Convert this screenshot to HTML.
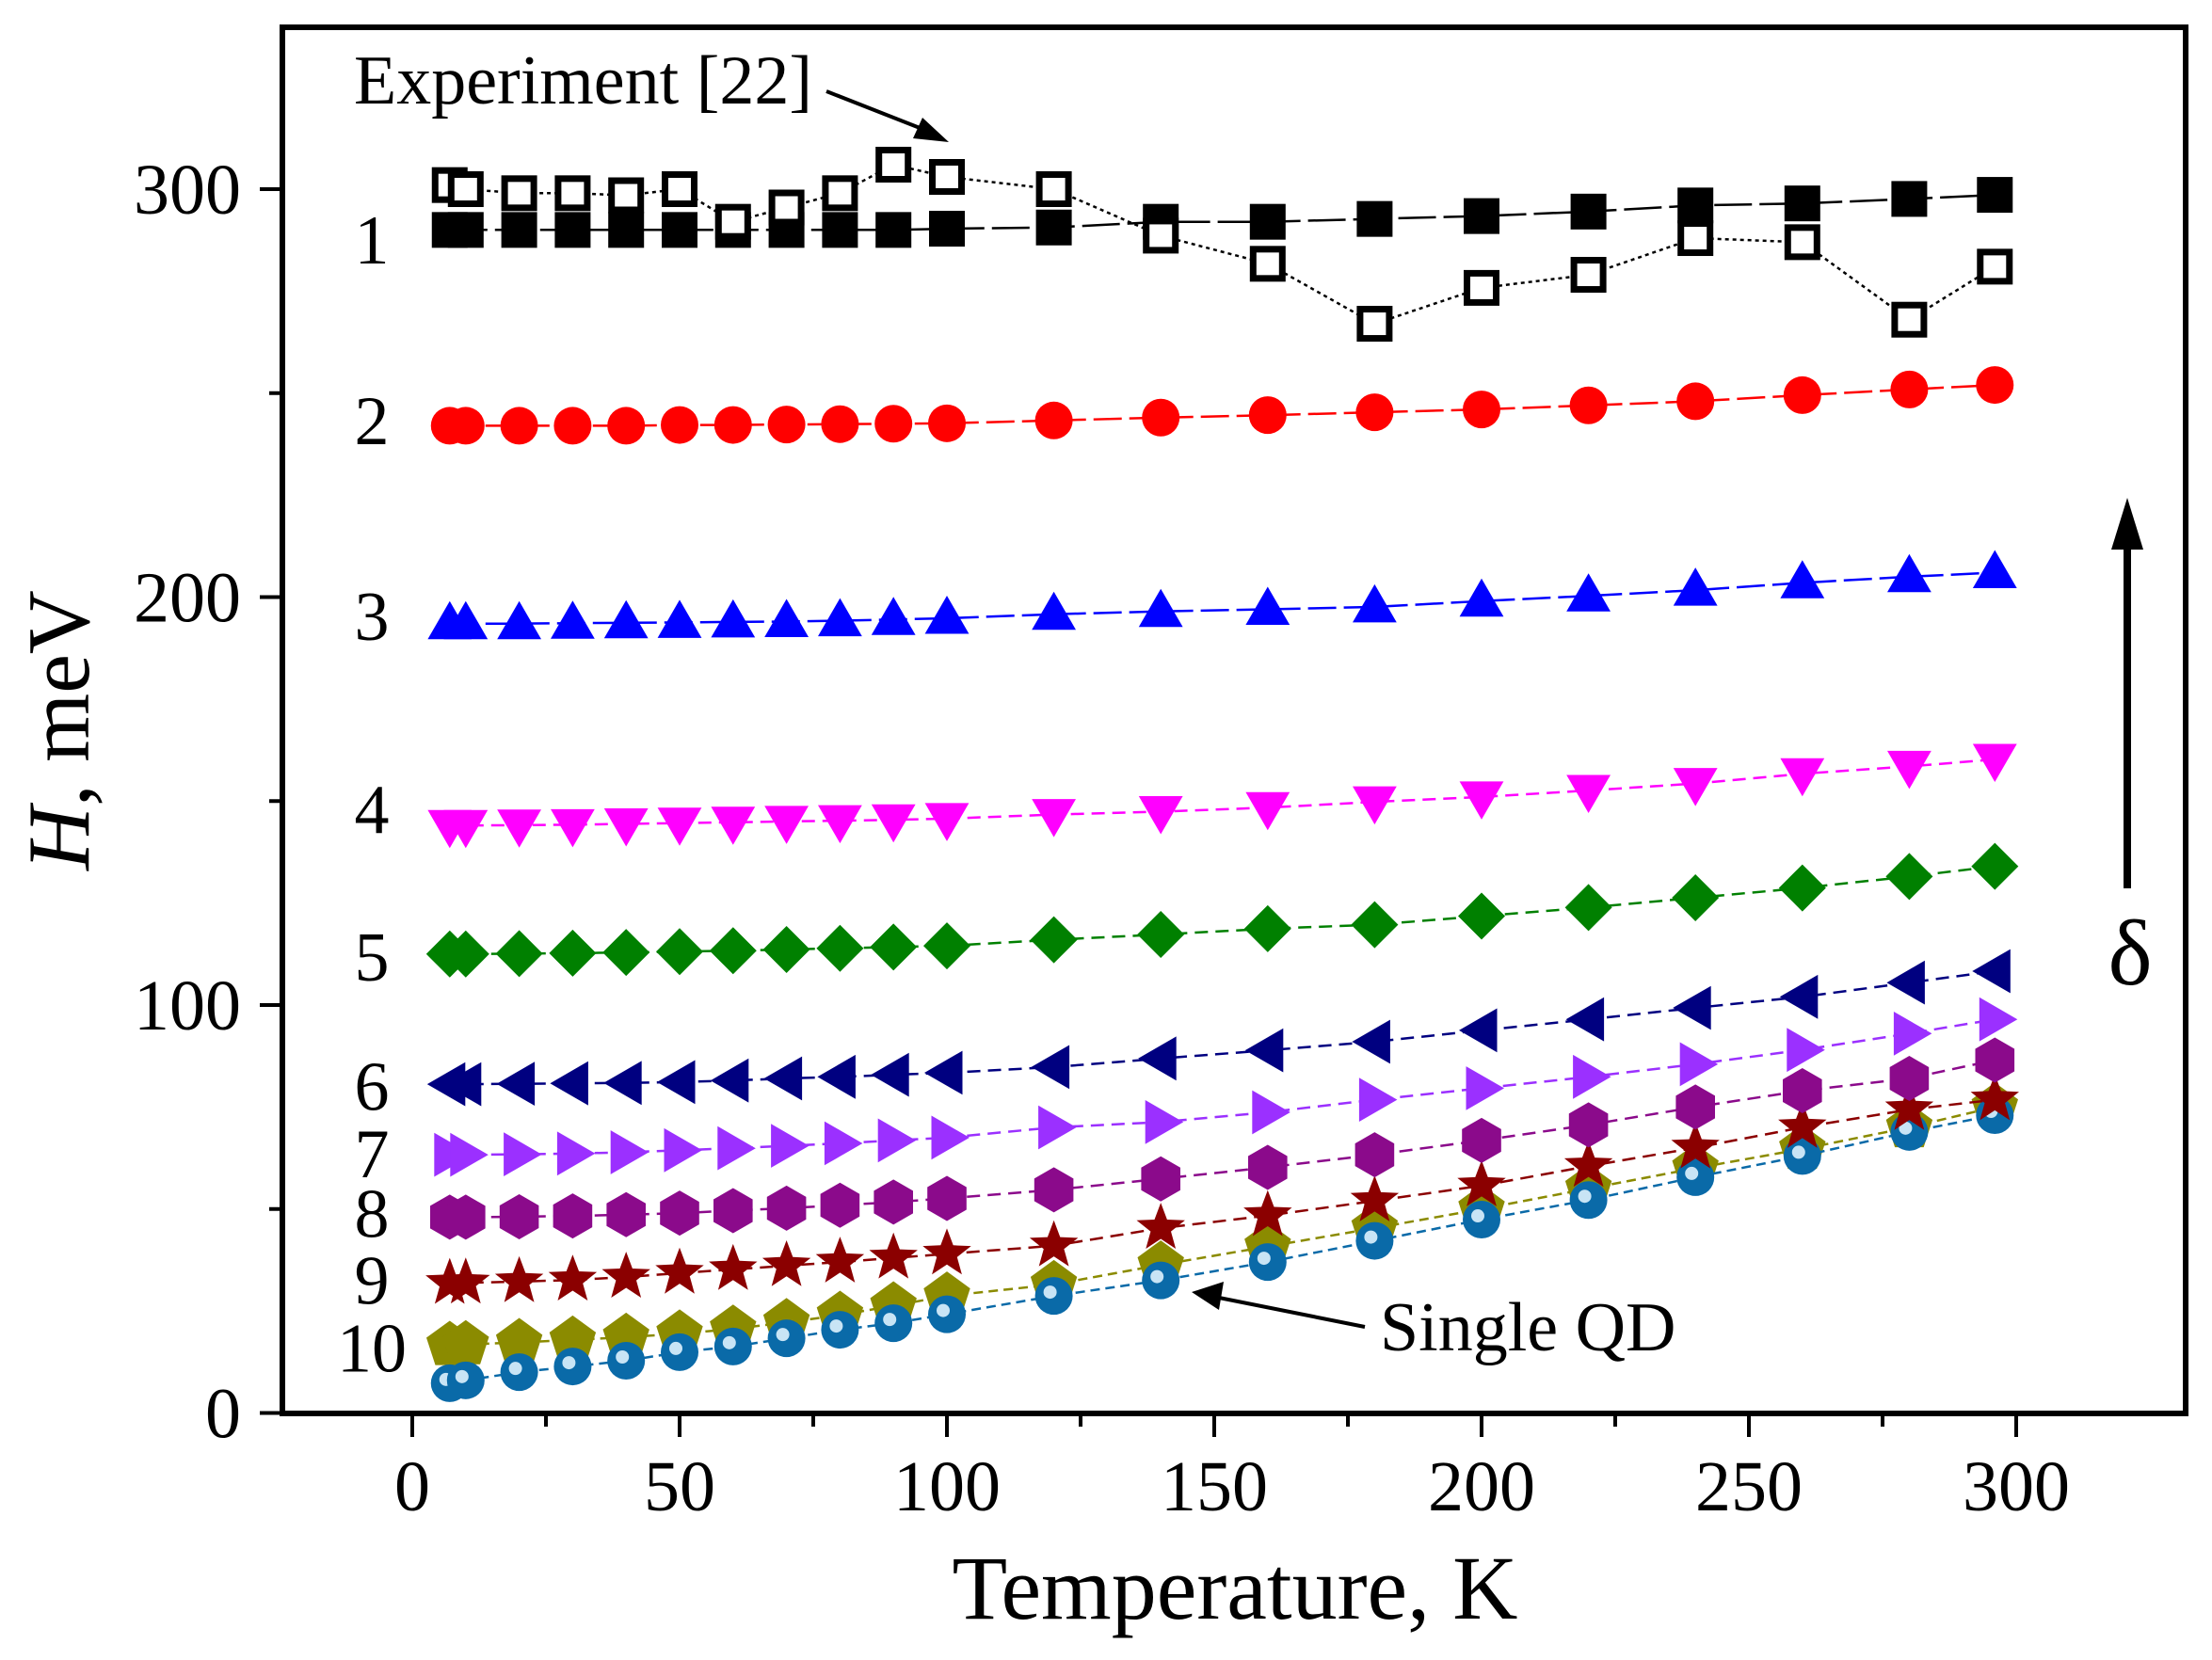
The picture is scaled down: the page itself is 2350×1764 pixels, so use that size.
<!DOCTYPE html>
<html><head><meta charset="utf-8"><style>
html,body{margin:0;padding:0;background:#fff}
svg{display:block}
text{font-family:"Liberation Serif",serif;fill:#000}
</style></head><body>
<svg id="chart" width="2350" height="1764" viewBox="0 0 2350 1764" xmlns="http://www.w3.org/2000/svg">
<g id="series-layer"></g>
<rect x="300" y="29" width="2022" height="1473" fill="none" stroke="#000" stroke-width="6"/>
<g id="axes-layer"></g>
<text x="376" y="110" font-size="74">Experiment [22]</text>
<line x1="878" y1="97" x2="990" y2="141" stroke="#000" stroke-width="4"/>
<polygon points="1008,151 970,147 980,125" fill="#000"/>
<text x="1466" y="1435" font-size="74">Single QD</text>
<line x1="1450" y1="1410" x2="1290" y2="1378" stroke="#000" stroke-width="4"/>
<polygon points="1266,1373 1300,1362 1295,1392" fill="#000"/>
<line x1="2260" y1="944" x2="2260" y2="580" stroke="#000" stroke-width="8"/>
<polygon points="2260,529 2243,584 2277,584" fill="#000"/>
<text x="2263" y="1046" font-size="100" text-anchor="middle">δ</text>
<text x="1312" y="1720" font-size="96" text-anchor="middle">Temperature, K</text>
<text transform="translate(94,776) rotate(-90)" font-size="94" text-anchor="middle"><tspan font-style="italic">H</tspan>, meV</text>
</svg>
<script>
const temps = [7,10,20,30,40,50,60,70,80,90,100,120,140,160,180,200,220,240,260,280,296];
const expTemps = [7,10,20,30,40,50,60,70,80,90,100,120,140,160,180,200,220,240,260,280,296];
const expValues = [301,300,299,299,298.5,300,292,295.5,299,306,303,300,288.6,281.7,267,275.8,279,288,287,268,281];
const s1 = [290,290,290,290,290,290,290,290,290,290,290.3,290.6,292,292,292.7,293.4,294.5,296,296.5,297.6,298.6];
const s2 = [242,242,242,242,242,242.2,242.2,242.3,242.4,242.5,242.6,243.3,244,244.6,245.3,246,247,248,249.5,250.9,252];
const s3 = [193.5,193.5,193.5,193.6,193.7,193.8,193.9,194,194.2,194.5,194.8,195.8,196.5,197,197.6,199,200.3,201.7,203.5,205,206];
const s4 = [144,144,144.1,144.2,144.4,144.6,144.8,145,145.2,145.4,145.7,146.7,147.4,148.4,149.8,151,152.6,154.3,156.7,158.5,160.2];
const s5 = [112.5,112.5,112.6,112.7,112.9,113.1,113.3,113.6,113.9,114.2,114.5,116,117.3,118.7,119.7,121.8,123.9,126.3,128.7,131.5,134];
const s6 = [80.6,80.6,80.7,80.8,80.9,81.1,81.5,82,82.4,82.9,83.4,84.8,86.9,88.9,91,93.8,96.5,99.3,102,105.5,108.3];
const s7 = [63.3,63.3,63.4,63.6,63.9,64.4,64.9,65.5,66.1,66.8,67.5,70,71.3,73.7,76.8,79.6,82.4,85.5,89,93,96.5];
const s8 = [48,48,48.1,48.3,48.6,49,49.6,50.2,50.9,51.7,52.6,54.7,57.4,60.2,63.3,66.8,70.6,75,79,82,86.5];
const s9 = [31.8,31.9,32.2,32.6,33.3,34.3,35.2,36.1,37,38,39,41,45.3,48.4,52,55.7,60.5,65,70,74.4,76.8];
const s10 = [16.6,16.8,17.3,17.9,18.6,19.4,20.6,22.2,24,26.3,28.7,31.5,36.3,40.8,45.3,50,55,60,64.7,70,75];
const single = [7.3,8,10,11.4,12.8,14.9,16.3,18.3,20.4,22,24.2,28.7,32.5,37,42.2,47.4,52.2,57.8,63,68.9,73];
const xTicks = [0,50,100,150,200,250,300];
const xMinor = [25,75,125,175,225,275];
const yTicks = [0,100,200,300];
const yMinor = [50,150,250];
const curveLabels = ["1","2","3","4","5","6","7","8","9","10"];
const curveLabelValues = [287.5,243.2,195.3,148,111.8,80,63.6,48.9,32.5,15.9];

const NS = "http://www.w3.org/2000/svg";
function xs(t){ return 438 + (t - 0) * 5.68; }
function ys(v){ return 1501.5 - v * 4.335; }
function mk(tag, attrs, parent){
  const e = document.createElementNS(NS, tag);
  for (const k in attrs) e.setAttribute(k, attrs[k]);
  parent.appendChild(e);
  return e;
}
const S = document.getElementById('series-layer');
const A = document.getElementById('axes-layer');

function star(cx, cy, r){
  let p = [];
  for (let i = 0; i < 10; i++){
    const a = -Math.PI/2 + i*Math.PI/5;
    const rr = i%2 ? r*0.42 : r;
    p.push((cx+rr*Math.cos(a)).toFixed(1)+','+(cy+rr*Math.sin(a)).toFixed(1));
  }
  return p.join(' ');
}
function poly(cx, cy, r, n, rot){
  let p = [];
  for (let i = 0; i < n; i++){
    const a = rot + i*2*Math.PI/n;
    p.push((cx+r*Math.cos(a)).toFixed(1)+','+(cy+r*Math.sin(a)).toFixed(1));
  }
  return p.join(' ');
}
function drawMarker(g, shape, cx, cy, color){
  let e;
  if (shape === 'sq') e = mk('rect', {x:cx-19, y:cy-19, width:38, height:38, fill:color}, g);
  else if (shape === 'osq') e = mk('rect', {x:cx-15.5, y:cy-15.5, width:31, height:31, fill:'#fff', stroke:'#000', 'stroke-width':7}, g);
  else if (shape === 'circ') e = mk('circle', {cx:cx, cy:cy, r:20, fill:color}, g);
  else if (shape === 'up') e = mk('polygon', {points: poly(cx, cy+3, 27, 3, -Math.PI/2), fill:color}, g);
  else if (shape === 'down') e = mk('polygon', {points: poly(cx, cy-3, 27, 3, Math.PI/2), fill:color}, g);
  else if (shape === 'left') e = mk('polygon', {points: poly(cx+3, cy, 27, 3, Math.PI), fill:color}, g);
  else if (shape === 'right') e = mk('polygon', {points: poly(cx-3, cy, 27, 3, 0), fill:color}, g);
  else if (shape === 'dia') e = mk('polygon', {points: poly(cx, cy, 25, 4, 0), fill:color}, g);
  else if (shape === 'hex') e = mk('polygon', {points: poly(cx, cy, 24, 6, -Math.PI/2), fill:color}, g);
  else if (shape === 'star') e = mk('polygon', {points: star(cx, cy, 27), fill:color}, g);
  else if (shape === 'pent') e = mk('polygon', {points: poly(cx, cy, 26, 5, -Math.PI/2), fill:color}, g);
  else if (shape === 'ball'){
    e = mk('circle', {cx:cx, cy:cy, r:20, fill:color}, g);
    const h = mk('circle', {cx:cx-4, cy:cy-4, r:7, fill:'#c8e4f5'}, g);
    
    
  }
  
  
}
const seriesDefs = [
  {name:'series-10', vals:s10, color:'#8b8b00', shape:'pent', dash:'10 6'},
  {name:'single-qd', vals:single, color:'#0a6aa8', shape:'ball', dash:'10 6'},
  {name:'series-9', vals:s9, color:'#8b0000', shape:'star', dash:'14 8'},
  {name:'series-8', vals:s8, color:'#8b0a8b', shape:'hex', dash:'14 8'},
  {name:'series-7', vals:s7, color:'#9b30ff', shape:'right', dash:'14 8'},
  {name:'series-6', vals:s6, color:'#000080', shape:'left', dash:'14 8'},
  {name:'series-5', vals:s5, color:'#008000', shape:'dia', dash:'14 8'},
  {name:'series-4', vals:s4, color:'#ff00ff', shape:'down', dash:'14 8'},
  {name:'series-3', vals:s3, color:'#0000ff', shape:'up', dash:'30 8'},
  {name:'series-2', vals:s2, color:'#ff0000', shape:'circ', dash:'30 8'},
  {name:'series-1', vals:s1, color:'#000000', shape:'sq', dash:'40 8'}
];
seriesDefs.forEach(d => {
  const g = mk('g', {}, S);
  
  
  const pts = d.vals.map((v,i) => xs(temps[i]).toFixed(1)+','+ys(v).toFixed(1)).join(' ');
  const l = mk('polyline', {points:pts, fill:'none', stroke:d.color, 'stroke-width':2.5, 'stroke-dasharray':d.dash}, g);
  
  
  d.vals.forEach((v,i) => drawMarker(g, d.shape, xs(temps[i]), ys(v), d.color));
});
(function(){
  const g = mk('g', {}, S);
  
  
  const pts = expValues.map((v,i) => xs(expTemps[i]).toFixed(1)+','+ys(v).toFixed(1)).join(' ');
  const l = mk('polyline', {points:pts, fill:'none', stroke:'#000', 'stroke-width':2.5, 'stroke-dasharray':'4 4'}, g);
  
  
  expValues.forEach((v,i) => drawMarker(g, 'osq', xs(expTemps[i]), ys(v), '#000'));
})();
xTicks.forEach(t => {
  const l = mk('line', {x1:xs(t), y1:1502, x2:xs(t), y2:1527, stroke:'#000', 'stroke-width':4}, A);
  
  
  const tx = mk('text', {x:xs(t), y:1605, 'font-size':76, 'text-anchor':'middle'}, A);
  tx.textContent = String(t);
  
  
});
xMinor.forEach(t => {
  const l = mk('line', {x1:xs(t), y1:1502, x2:xs(t), y2:1516, stroke:'#000', 'stroke-width':4}, A);
  
  
});
yTicks.forEach(v => {
  const l = mk('line', {x1:276, y1:ys(v), x2:300, y2:ys(v), stroke:'#000', 'stroke-width':4}, A);
  
  
  const tx = mk('text', {x:256, y:ys(v)+26, 'font-size':76, 'text-anchor':'end'}, A);
  tx.textContent = String(v);
  
  
});
yMinor.forEach(v => {
  const l = mk('line', {x1:286, y1:ys(v), x2:300, y2:ys(v), stroke:'#000', 'stroke-width':4}, A);
  
  
});
curveLabels.forEach((c,i) => {
  const tx = mk('text', {x:395, y:ys(curveLabelValues[i]) + 25, 'font-size':74, 'text-anchor':'middle'}, A);
  tx.textContent = c;
  
  
});
</script>
</body></html>
